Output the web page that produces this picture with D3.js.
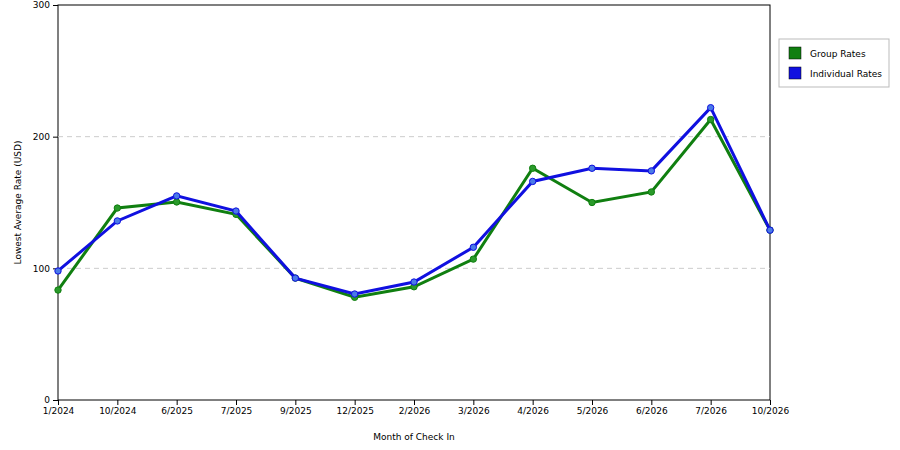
<!DOCTYPE html><html><head><meta charset="utf-8"><script src="https://cdn.jsdelivr.net/npm/d3@7"></script>
<style>body{margin:0;background:#fff}text{font-family:"DejaVu Sans",Verdana,sans-serif;font-size:9px;fill:#000}</style></head><body>
<svg id="c" width="900" height="450"></svg>
<script>
const categories=["1/2024","10/2024","6/2025","7/2025","9/2025","12/2025","2/2026","3/2026","4/2026","5/2026","6/2026","7/2026","10/2026"];
const groupRates=[83.5,145.8,150.4,141,92.6,78,86,107,176,150,158,213,129];
const individualRates=[98,136,155,143.5,92.6,80.5,89.6,116,166,176,174,222,129];
const yTicks=[0,100,200,300];
const svg=d3.select("#c");
const L=58,R=770,T=5,B=400;
const x=d3.scalePoint().domain(categories).range([L,R]);
const y=d3.scaleLinear().domain([0,300]).range([B,T]);
svg.append("rect").attr("x",L).attr("y",T).attr("width",R-L).attr("height",B-T).attr("fill","none").attr("stroke","#000");
svg.append("g").selectAll("line").data([100,200]).join("line").attr("x1",L).attr("x2",R).attr("y1",d=>y(d)).attr("y2",d=>y(d)).attr("stroke","#ccc").attr("stroke-dasharray","5,4");
svg.append("g").attr("transform",`translate(0,${B})`).call(d3.axisBottom(x).tickSize(5).tickSizeOuter(0)).call(g=>g.select(".domain").remove()).selectAll("text").style("font-size","9px").style("font-family","DejaVu Sans");
svg.append("g").attr("transform",`translate(${L},0)`).call(d3.axisLeft(y).tickValues(yTicks).tickSize(5).tickSizeOuter(0)).call(g=>g.select(".domain").remove()).selectAll("text").style("font-size","9px").style("font-family","DejaVu Sans");
svg.append("text").attr("x",(L+R)/2).attr("y",440).attr("text-anchor","middle").text("Month of Check In");
svg.append("text").attr("transform",`translate(21,${(T+B)/2}) rotate(-90)`).attr("text-anchor","middle").text("Lowest Average Rate (USD)");
const line=d3.line().x((d,i)=>x(categories[i])).y(d=>y(d));
[[groupRates,"#107f10","#2a9a2a"],[individualRates,"#1010e0","#4a7ae8"]].forEach(([data,c,m])=>{
 svg.append("path").datum(data).attr("d",line).attr("fill","none").attr("stroke",c).attr("stroke-width",3);
 svg.append("g").selectAll("circle").data(data).join("circle").attr("cx",(d,i)=>x(categories[i])).attr("cy",d=>y(d)).attr("r",3.2).attr("fill",m).attr("stroke",c).attr("stroke-width",1);
});
const lg=svg.append("g");
lg.append("rect").attr("x",779).attr("y",39).attr("width",110).attr("height",48).attr("fill","#fff").attr("stroke","#bbb");
[["Group Rates","#107f10"],["Individual Rates","#1010e0"]].forEach(([t,c],i)=>{
 lg.append("rect").attr("x",789).attr("y",47+i*20).attr("width",12).attr("height",12).attr("fill",c).attr("stroke","#000").attr("stroke-width",0.5);
 lg.append("text").attr("x",810).attr("y",57+i*20).text(t);
});
</script></body></html>
